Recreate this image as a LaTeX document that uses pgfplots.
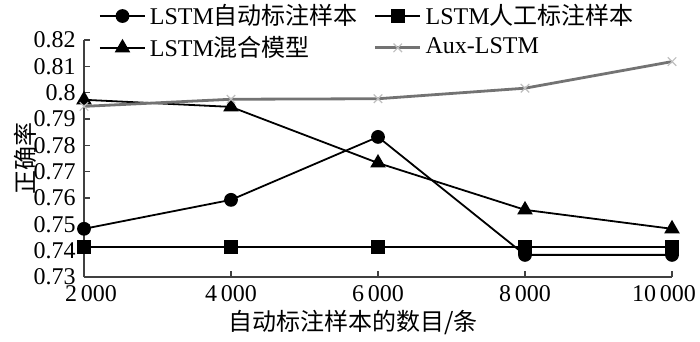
\documentclass[border=0pt]{standalone}
\usepackage{pgfplots}
\pgfplotsset{compat=1.18}
\usepackage{fontspec}
\setmainfont{Liberation Serif}
\newfontfamily\cjk{Noto Sans CJK SC}

\pgfplotstableread{
x auto manual mixed aux
2000 0.7483 0.7413 0.7973 0.7948
4000 0.7593 0.7413 0.7946 0.7975
6000 0.7832 0.7413 0.7733 0.7977
8000 0.7384 0.7413 0.7555 0.8017
10000 0.7384 0.7413 0.7483 0.8118
}\datatable

\begin{document}
\fontsize{12bp}{14bp}\selectfont
\begin{tikzpicture}
\begin{axis}[name=ax, scale only axis, width=294bp, height=118.5bp,
  xmin=2000, xmax=10000, ymin=0.73, ymax=0.82,
  scaled x ticks=false, scaled y ticks=false,
  axis lines=left, axis line style={black!75, line width=0.6bp, -},
  xtick={2000,4000,6000,8000,10000},
  xticklabels={\kern7bp 2\kern0.15em 000,4\kern0.15em 000,6\kern0.15em 000,8\kern0.15em 000,10\kern0.15em 000\kern8bp},
  ytick={0.73,0.74,0.75,0.76,0.77,0.78,0.79,0.80,0.81,0.82},
  yticklabels={0.73,0.74,0.75,0.76,0.77,0.78,0.79,0.8,0.81,0.82},
  tick style={black!75, line width=0.6bp}, tick align=inside, major tick length=3bp,
  ticklabel style={font=\fontsize{12bp}{14bp}\selectfont},
  clip=false,
  xlabel={{\cjk 自动标注样本的数目/条}},
  ylabel={{\cjk 正确率}},
  xlabel style={at={(axis description cs:0.457,-0.19)}, anchor=center, font=\fontsize{12bp}{14bp}\selectfont},
  ylabel style={at={(axis description cs:-0.1,0.5)}, anchor=center, font=\fontsize{12bp}{14bp}\selectfont},
  legend columns=2,
  legend cell align=left,
  legend style={draw=none, fill=none, at={(0.025,1.17)}, anchor=north west,
    font=\fontsize{12bp}{14bp}\selectfont, inner sep=0pt, row sep=0bp,
    /tikz/every even column/.append style={column sep=6bp}},
  legend image code/.code={\draw[mark repeat=2,mark phase=2] plot coordinates {(0bp,0bp) (11.25bp,0bp) (22.5bp,0bp)};},
]
\addplot[black, line width=0.9bp, mark=*, mark size=3bp] table[x=x,y=auto] {\datatable};
\addlegendentry{LSTM{\cjk 自动标注样本}}
\addplot[black, line width=0.9bp, mark=square*, mark size=3bp] table[x=x,y=manual] {\datatable};
\addlegendentry{LSTM{\cjk 人工标注样本}}
\addplot[black, line width=0.9bp, mark=triangle*, mark size=3.6bp] table[x=x,y=mixed] {\datatable};
\addlegendentry{LSTM{\cjk 混合模型}}
\addplot[black!55, line width=1.4bp, mark=x, mark size=3bp, mark options={black!25, line width=0.6bp}] table[x=x,y=aux] {\datatable};
\addlegendentry{Aux-LSTM}
\end{axis}
\pgfresetboundingbox
\path[use as bounding box] ([xshift=-42bp,yshift=-32bp]ax.south west) rectangle ([xshift=14bp,yshift=20bp]ax.north east);
\end{tikzpicture}
\end{document}
